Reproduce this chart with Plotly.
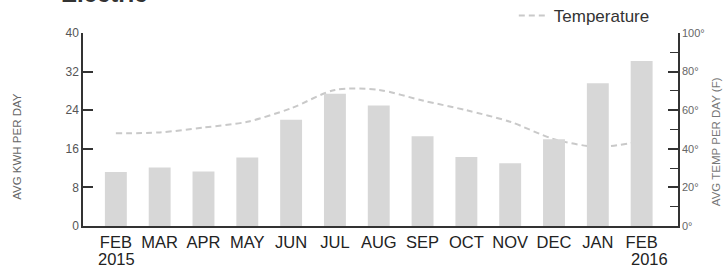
import plotly.graph_objects as go

categories = ["FEB 2015", "MAR 2015", "APR 2015", "MAY 2015", "JUN 2015", "JUL 2015", "AUG 2015",
              "SEP 2015", "OCT 2015", "NOV 2015", "DEC 2015", "JAN 2016", "FEB 2016"]
month_labels = ["FEB", "MAR", "APR", "MAY", "JUN", "JUL", "AUG", "SEP", "OCT", "NOV", "DEC", "JAN", "FEB"]
year_labels = {"FEB 2015": "2015", "FEB 2016": "2016"}
kwh = [11.2, 12.1, 11.3, 14.2, 22.0, 27.4, 25.0, 18.6, 14.3, 13.0, 18.0, 29.6, 34.2]
temp = [48, 48.5, 51, 54, 61, 70.5, 70.5, 65, 60, 54, 45, 41, 44]

left_ticks = [0, 8, 16, 24, 32, 40]
right_ticks = [0, 20, 40, 60, 80, 100]
right_labels = ["0°", "20°", "40°", "60°", "80°", "100°"]

fig = go.Figure()

# temperature line on primary y (drawn underneath the bars)
fig.add_trace(go.Scatter(
    x=categories, y=temp, name="Temperature", mode="lines",
    line=dict(color="#c9c9c9", width=2, dash="6px,4px", shape="spline", smoothing=0.8),
    yaxis="y", showlegend=True,
))

# bars on overlaying axis (drawn on top)
fig.add_trace(go.Bar(
    x=categories, y=kwh, name="kWh", yaxis="y2",
    marker=dict(color="#d7d7d7", line=dict(width=0)),
    width=0.5, showlegend=False,
))

annotations = [
    dict(text="AVG KWH PER DAY", textangle=-90, xref="paper", yref="paper",
         x=-0.111, y=0.415, xanchor="center", yanchor="middle",
         showarrow=False, font=dict(size=11.5, color="#666")),
    dict(text="AVG TEMP PER DAY (F)", textangle=-90, xref="paper", yref="paper",
         x=1.064, y=0.435, xanchor="center", yanchor="middle",
         showarrow=False, font=dict(size=11.5, color="#777")),
    dict(text="<b>Electric</b>", xref="paper", yref="paper",
         x=-0.040, y=1.124, xanchor="left", yanchor="bottom",
         showarrow=False, font=dict(size=24, color="#333")),
]
year_shift = {"FEB 2015": 1, "FEB 2016": 8}
for cat, yr in year_labels.items():
    annotations.append(dict(
        text=yr, xref="x", yref="paper", x=cat, y=-0.17,
        xanchor="center", yanchor="middle", xshift=year_shift[cat],
        showarrow=False, font=dict(size=16.5, color="#222"),
    ))

fig.update_layout(
    width=728, height=269,
    margin=dict(l=83, r=50, t=33, b=43, autoexpand=False),
    paper_bgcolor="white", plot_bgcolor="white",
    font=dict(family="Liberation Sans, Arial, sans-serif", color="#333"),
    xaxis=dict(
        type="category", range=[-0.75, 12.83], automargin=False,
        tickvals=categories, ticktext=month_labels,
        showgrid=False, zeroline=False,
        showline=True, linecolor="#333", linewidth=1.5,
        ticks="", tickfont=dict(size=16.5, color="#222"),
        layer="below traces",
    ),
    yaxis=dict(
        side="right", range=[0, 100], automargin=False,
        tickvals=right_ticks, ticktext=right_labels,
        showgrid=False, zeroline=False,
        showline=True, linecolor="#333", linewidth=1.5,
        ticks="inside", ticklen=10, tickcolor="#333", tickwidth=1.5,
        minor=dict(dtick=10, ticks="inside", ticklen=8, tickcolor="#333", tickwidth=1.2),
        tickfont=dict(size=11, color="#666"),
    ),
    yaxis2=dict(
        side="left", overlaying="y", range=[0, 40], automargin=False,
        tickvals=left_ticks,
        showgrid=False, zeroline=False,
        showline=True, linecolor="#333", linewidth=1.5,
        ticks="inside", ticklen=10, tickcolor="#333", tickwidth=1.5,
        tickfont=dict(size=12, color="#555"),
    ),
    legend=dict(
        orientation="h", x=0.961, xanchor="right", y=1.088, yanchor="middle",
        font=dict(size=17, color="#333"), bgcolor="rgba(0,0,0,0)",
    ),
    bargap=0.5,
    annotations=annotations,
)

fig.write_html(
    "out.html",
    config={"displayModeBar": False},
    post_script="document.body.style.margin='0';document.body.style.overflow='hidden';",
)
